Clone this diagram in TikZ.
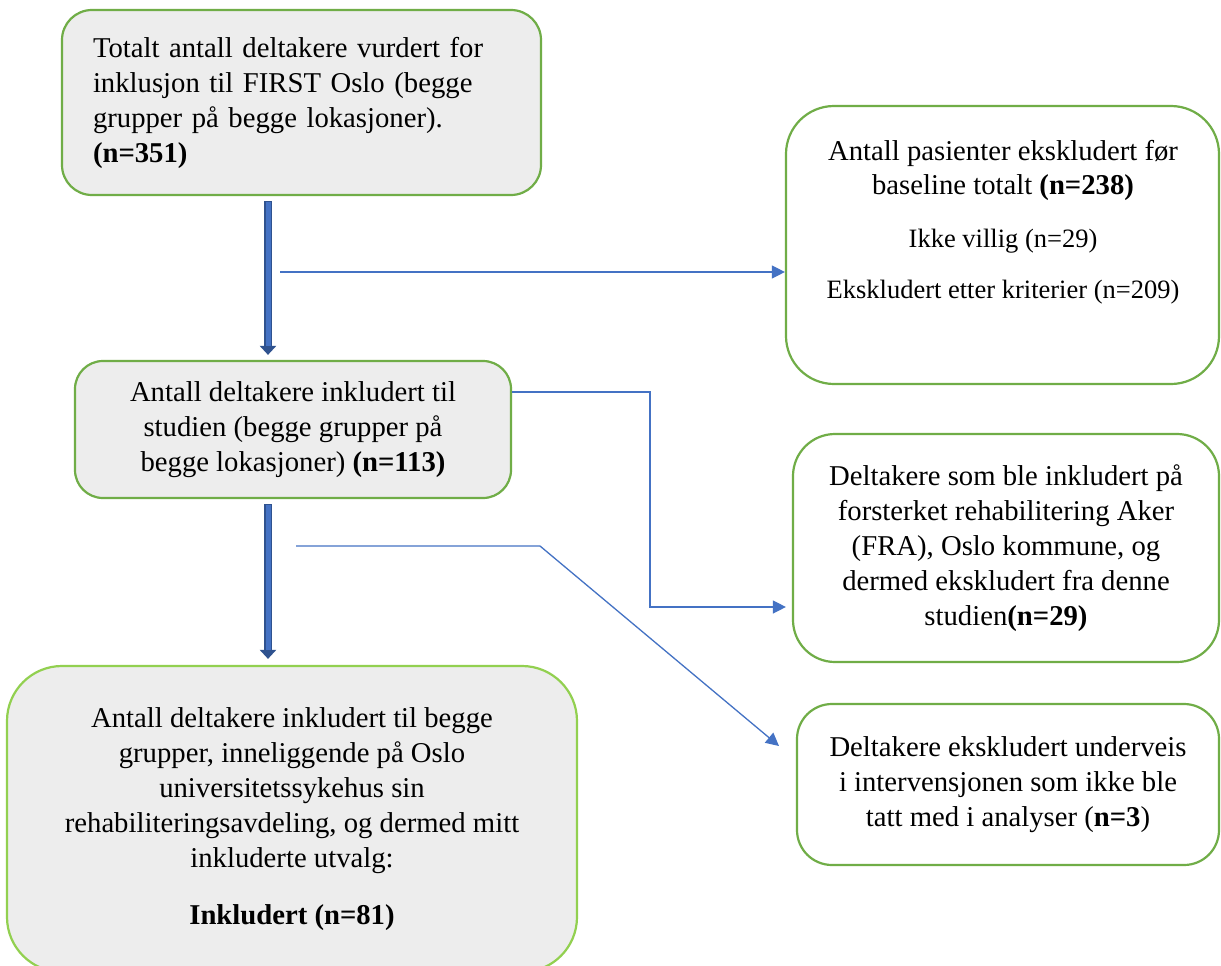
\documentclass[tikz,border=0pt]{standalone}
\usepackage{fontspec}
\setmainfont{Liberation Serif}
\usetikzlibrary{arrows.meta}
\definecolor{grn}{HTML}{70AD47}
\definecolor{grnlight}{HTML}{92D050}
\definecolor{boxgray}{HTML}{EDEDED}
\definecolor{ablue}{HTML}{4472C4}
\definecolor{dblue}{HTML}{2F528F}
\begin{document}
\begin{tikzpicture}[x=1pt,y=-1pt,
  box/.style={draw=grn, line width=2.2pt, rectangle, inner sep=0pt, align=center,
    font=\fontsize{28.7}{35}\selectfont},
  graybox/.style={box, fill=boxgray},
  whitebox/.style={box, fill=white},
  txt/.style={inner sep=0pt, align=center, font=\fontsize{28.7}{34}\selectfont},
  smalltxt/.style={inner sep=0pt, align=center, font=\fontsize{26.5}{32}\selectfont},
  thinarrow/.style={draw=ablue, line width=1.3pt, -{Triangle[length=13pt,width=13pt]}},
  thickouter/.style={draw=dblue, line width=8pt, -{Triangle[length=9pt,width=16pt]}},
  thickinner/.style={draw=ablue, line width=5pt}
]
\clip (0,0) rectangle (1221,966);
\fill[white] (0,0) rectangle (1221,966);

% boxes
\node[graybox, rounded corners=30pt, minimum width=479pt, minimum height=185pt,
  text width=417pt, align=left] (b1) at (301.5,102.5)
  {Totalt antall deltakere vurdert for\\inklusjon til FIRST Oslo (begge\\grupper på begge lokasjoner).\\\textbf{(n=351)}};

\node[whitebox, rounded corners=48pt, minimum width=433pt, minimum height=278pt] (b2) at (1002.5,245) {};
\node[txt] (t2a) at (1003,170) {Antall pasienter ekskludert før\\baseline totalt \textbf{(n=238)}};
\node[smalltxt] (t2b) at (1003,241) {Ikke villig (n=29)};
\node[smalltxt] (t2c) at (1003,292) {Ekskludert etter kriterier (n=209)};

\node[graybox, rounded corners=28pt, minimum width=436pt, minimum height=137pt] (b3) at (293,429.5)
  {Antall deltakere inkludert til\\studien (begge grupper på\\begge lokasjoner) \textbf{(n=113)}};

\node[whitebox, rounded corners=42pt, minimum width=426pt, minimum height=228pt] (b4) at (1006,548)
  {Deltakere som ble inkludert på\\forsterket rehabilitering Aker\\(FRA), Oslo kommune, og\\dermed ekskludert fra denne\\studien\textbf{(n=29)}};

\node[graybox, draw=grnlight, rounded corners=55pt, minimum width=570pt, minimum height=306pt] (b5) at (292,819)
  {Antall deltakere inkludert til begge\\grupper, inneliggende på Oslo\\universitetssykehus sin\\rehabiliteringsavdeling, og dermed mitt\\inkluderte utvalg:\\[22pt]\textbf{Inkludert (n=81)}};

\node[whitebox, rounded corners=35pt, minimum width=422pt, minimum height=161pt] (b6) at (1008,784.5)
  {Deltakere ekskludert underveis\\i intervensjonen som ikke ble\\tatt med i analyser (\textbf{n=3})};

% helper coordinates
\coordinate (ax) at (268,0);
\coordinate (s1) at (280,272);
\coordinate (k1) at (650,392);
\coordinate (k2) at (650,607);
\coordinate (s3) at (296,546);
\coordinate (k3) at (540,546);
\coordinate (e3) at (779,746);

% thick arrows
\draw[thickouter, shorten <=5pt, shorten >=5pt] (b1.south -| ax) -- (b3.north -| ax);
\draw[thickinner, shorten <=6pt, shorten >=14pt] (b1.south -| ax) -- (b3.north -| ax);
\draw[thickouter, shorten <=5pt, shorten >=6pt] (b3.south -| ax) -- (b5.north -| ax);
\draw[thickinner, shorten <=6pt, shorten >=15pt] (b3.south -| ax) -- (b5.north -| ax);

% thin arrows
\draw[thinarrow] (s1) -- (b2.west |- s1);
\draw[thinarrow, shorten >=6pt] (b3.east |- k1) -- (k1) -- (k2) -- (b4.west |- k2);
\draw[thinarrow] (s3) -- (k3) -- (e3);
\end{tikzpicture}
\end{document}
